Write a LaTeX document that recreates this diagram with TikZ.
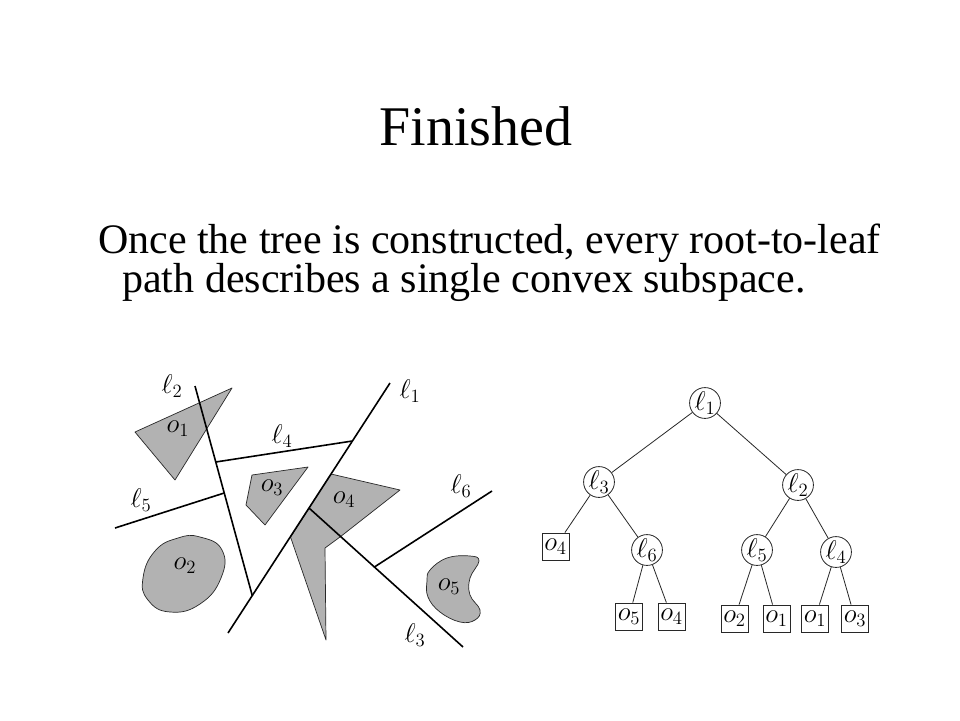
\documentclass[tikz,border=0pt]{standalone}
\usepackage{fix-cm}
\usepackage{fontspec}
\setmainfont{Liberation Serif}
\definecolor{shade}{RGB}{178,178,178}
\definecolor{edge}{RGB}{40,40,40}
\newcommand{\mylab}[1]{\scalebox{1.3}{$#1$}}
\begin{document}
\begin{tikzpicture}[x=1pt,y=-1pt,
  sline/.style={line width=1.6pt,black},
  blob/.style={fill=shade,draw=edge,line width=0.7pt,line join=round},
  lab/.style={inner sep=0pt,font=\fontsize{20.74}{22}\selectfont},
  inode/.style={circle,draw=edge,line width=0.8pt,minimum size=30pt,inner sep=0pt,font=\fontsize{20.74}{22}\selectfont},
  leaf/.style={rectangle,draw=edge,line width=0.8pt,minimum size=27pt,inner sep=0pt,font=\fontsize{20.74}{22}\selectfont},
  tedge/.style={line width=0.8pt,edge},
  txt/.style={inner sep=0pt,anchor=base west}]
\useasboundingbox (0,0) rectangle (960,720);
\fill[white] (0,0) rectangle (960,720);

% title and text
\node[inner sep=0pt,anchor=base,font=\fontsize{56}{60}\selectfont] (title) at (476,145) {Finished};
\node[txt,font=\fontsize{42}{44}\selectfont] (line1) at (98,253) {Once the tree is constructed, every root-to-leaf};
\node[txt,font=\fontsize{42}{44}\selectfont] (line2) at (122,292) {path describes a single convex subspace.};

% ---------- left scene ----------
% shapes
\draw[blob] (135,432) -- (232,388) -- (175,480) -- cycle;
\draw[blob] (252,475) -- (308,467) -- (265,525) -- (246,505) -- cycle;
\draw[blob] (331,474) -- (400,490) -- (340,537) -- (325,548) -- (326,640) -- (290.5,537) -- cycle;
\draw[blob] plot[smooth cycle,tension=0.8] coordinates {(200,537) (222,550) (221,578) (200,604) (170,612) (148,600) (143,578) (155,551) (178,538)};
\draw[blob] plot[smooth cycle,tension=0.7] coordinates {(430,570) (447,558) (470,556) (479,561) (470,578) (470,595) (480,610) (475,620) (460,622) (440,612) (428,597) (427,581)};

% lines
\coordinate (l1a) at (390,383);
\coordinate (l1b) at (228,633);
\coordinate (l2a) at (195,386);
\coordinate (l2b) at (252.3,595.7);
\coordinate (l4a) at (215.7,462);
\coordinate (l4b) at (352.4,441);
\coordinate (l5a) at (115,528);
\coordinate (l5b) at (224.2,493);
\coordinate (l3a) at (309,508);
\coordinate (l3b) at (463,647);
\coordinate (l6a) at (374.4,567);
\coordinate (l6b) at (492,491);
\draw[sline] (l1a) -- (l1b);
\draw[sline] (l2a) -- (l2b);
\draw[sline] (l4a) -- (l4b);
\draw[sline] (l5a) -- (l5b);
\draw[sline] (l3a) -- (l3b);
\draw[sline] (l6a) -- (l6b);

% labels
\node[lab] (tl1) at (410,391) {\mylab{\ell_1}};
\node[lab] (tl2) at (172,386) {\mylab{\ell_2}};
\node[lab] (tl3) at (415,635) {\mylab{\ell_3}};
\node[lab] (tl4) at (282,436) {\mylab{\ell_4}};
\node[lab] (tl5) at (141,500) {\mylab{\ell_5}};
\node[lab] (tl6) at (461,486) {\mylab{\ell_6}};
\node[lab] (to1) at (178,429) {\mylab{o_1}};
\node[lab] (to2) at (185,566) {\mylab{o_2}};
\node[lab] (to3) at (272,488) {\mylab{o_3}};
\node[lab] (to4) at (344,500) {\mylab{o_4}};
\node[lab] (to5) at (449,587) {\mylab{o_5}};

% ---------- tree ----------
\node[inode] (n1) at (705,403) {\mylab{\ell_1}};
\node[inode] (n3) at (599,482) {\mylab{\ell_3}};
\node[inode] (n2) at (798,485) {\mylab{\ell_2}};
\node[leaf]  (a4) at (555.5,546.5) {\mylab{o_4}};
\node[inode] (n6) at (647,550) {\mylab{\ell_6}};
\node[inode] (n5) at (757,550) {\mylab{\ell_5}};
\node[inode] (n4) at (836,552) {\mylab{\ell_4}};
\node[leaf]  (b5) at (629,616.5) {\mylab{o_5}};
\node[leaf]  (b4) at (671.5,616.5) {\mylab{o_4}};
\node[leaf]  (c2) at (734.5,618.5) {\mylab{o_2}};
\node[leaf]  (c1) at (776.5,618.5) {\mylab{o_1}};
\node[leaf]  (d1) at (815,618.5) {\mylab{o_1}};
\node[leaf]  (d3) at (855,618.5) {\mylab{o_3}};
\draw[tedge] (n1) -- (n3);
\draw[tedge] (n1) -- (n2);
\draw[tedge] (n3) -- (a4);
\draw[tedge] (n3) -- (n6);
\draw[tedge] (n6) -- (b5);
\draw[tedge] (n6) -- (b4);
\draw[tedge] (n2) -- (n5);
\draw[tedge] (n2) -- (n4);
\draw[tedge] (n5) -- (c2);
\draw[tedge] (n5) -- (c1);
\draw[tedge] (n4) -- (d1);
\draw[tedge] (n4) -- (d3);
\end{tikzpicture}
\end{document}
